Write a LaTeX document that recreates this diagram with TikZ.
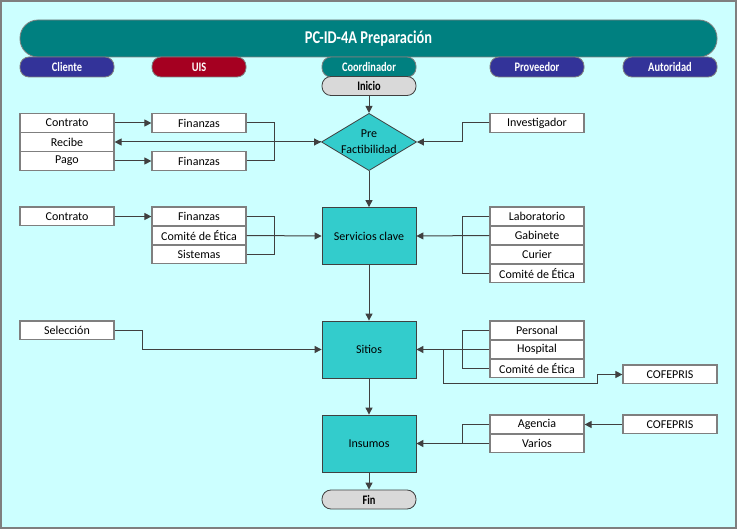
\documentclass[tikz,border=0pt]{standalone}
\usepackage{fontspec}
\setmainfont{Carlito}
\newfontfamily\angosta[FakeStretch=0.8]{Carlito}
\usetikzlibrary{arrows.meta,shapes.geometric}

\definecolor{fondo}{HTML}{CCFFFF}
\definecolor{verdeazul}{HTML}{008080}
\definecolor{azulcarril}{HTML}{333399}
\definecolor{rojocarril}{HTML}{A50021}
\definecolor{proceso}{HTML}{33CCCC}
\definecolor{grisinicio}{HTML}{D9D9D9}
\definecolor{borde}{HTML}{7F7F7F}
\definecolor{trazo}{HTML}{404040}

\tikzset{
  caja/.style={draw=borde, line width=1.2pt, fill=white, minimum width=94pt,
    minimum height=18.8pt, inner sep=0pt, font=\fontsize{12}{13}\selectfont},
  carril/.style={draw=borde, line width=0.8pt, rounded corners=9pt, minimum width=94pt,
    minimum height=20pt, inner sep=0pt, text=white, font=\angosta\fontsize{13}{14}\selectfont\bfseries},
  terminal/.style={draw=trazo, line width=0.8pt, fill=grisinicio, rounded corners=9pt,
    minimum width=94pt, minimum height=19pt, inner sep=0pt, font=\angosta\fontsize{13}{14}\selectfont\bfseries},
  tarea/.style={draw=trazo, line width=0.8pt, fill=proceso, minimum width=94pt,
    minimum height=57pt, inner sep=0pt, font=\fontsize{12}{13}\selectfont},
  decision/.style={diamond, draw=trazo, line width=0.8pt, fill=proceso, aspect=1.66,
    minimum width=93pt, minimum height=56pt, inner sep=0pt, align=center,
    font=\fontsize{12}{16}\selectfont},
  linea/.style={draw=trazo, line width=1pt},
  flecha/.style={linea, -{Triangle[length=7pt,width=7pt]}}
}

\begin{document}
\begin{tikzpicture}[x=1pt,y=-1pt]
    % Fondo y marco
    \useasboundingbox (0,0) rectangle (737,529);
    \fill[fondo] (0,0) rectangle (737,529);
    \draw[borde, line width=1.5pt] (1,1) rectangle (736,528);

    % Encabezado
    \node[draw=borde, line width=0.8pt, fill=verdeazul, rounded corners=18pt, minimum width=697pt,
      minimum height=37pt, text=white, font=\angosta\fontsize{18}{20}\selectfont\bfseries]
      (titulo) at (368.5,38.5) {PC-ID-4A Preparación};

    % Carriles
    \foreach \x/\nombre/\clr in {
      67/Cliente/azulcarril,
      199/UIS/rojocarril,
      369/Coordinador/verdeazul,
      537/Proveedor/azulcarril,
      670/Autoridad/azulcarril} {
      \node[carril, fill=\clr] (\nombre) at (\x,67) {\nombre};
    }

    % Flujo principal
    \node[terminal] (inicio) at (369,86) {Inicio};
    \node[decision] (pre) at (369,142) {Pre\\Factibilidad};
    \node[tarea] (serv) at (369,236) {Servicios clave};
    \node[tarea] (sitios) at (369,349.5) {Sitios};
    \node[tarea] (insumos) at (369,443.5) {Insumos};
    \node[terminal] (fin) at (369,499.5) {Fin};

    \draw[flecha] (inicio) -- (pre);
    \draw[flecha] (pre) -- (serv);
    \draw[flecha] (serv) -- (sitios);
    \draw[flecha] (sitios) -- (insumos);
    \draw[flecha] (insumos) -- (fin);

    % Pre factibilidad
    \node[caja] (contrato1) at (67,123) {Contrato};
    \node[caja] (recibe) at (67,142) {Recibe};
    \node[caja] (pago) at (67,161) {Pago};
    \node[caja] (finanzas1) at (199,123) {Finanzas};
    \node[caja] (finanzas2) at (199,161) {Finanzas};
    \node[caja] (investigador) at (537,123) {Investigador};

    \coordinate (j1) at (274,142);
    \coordinate (j2) at (462,142);
    \draw[flecha] (contrato1) -- (finanzas1);
    \draw[flecha] (pago) -- (finanzas2);
    \draw[linea] (finanzas1.east) -| (j1);
    \draw[linea] (finanzas2.east) -| (j1);
    \draw[flecha] (j1) -- (pre.west);
    \draw[flecha] (pre.west) -- (recibe.east);
    \draw[linea] (investigador.west) -| (j2);
    \draw[flecha] (j2) -- (pre.east);

    % Servicios clave
    \node[caja] (contrato2) at (67,216.5) {Contrato};
    \node[caja] (finanzas3) at (199,216.5) {Finanzas};
    \node[caja] (etica1) at (199,235.5) {Comité de Ética};
    \node[caja] (sistemas) at (199,254.5) {Sistemas};
    \node[caja] (laboratorio) at (537,216.5) {Laboratorio};
    \node[caja] (gabinete) at (537,235.5) {Gabinete};
    \node[caja] (curier) at (537,254.5) {Curier};
    \node[caja] (etica2) at (537,273.5) {Comité de Ética};

    \coordinate (j3) at (274,235.5);
    \coordinate (j4) at (462,235.5);
    \draw[flecha] (contrato2) -- (finanzas3);
    \draw[linea] (finanzas3.east) -| (j3);
    \draw[linea] (sistemas.east) -| (j3);
    \draw[flecha] (etica1.east) -- (serv.west);
    \draw[linea] (laboratorio.west) -| (j4);
    \draw[linea] (etica2.west) -| (j4);
    \draw[flecha] (gabinete.west) -- (serv.east);

    % Sitios
    \node[caja] (seleccion) at (67,330.5) {Selección};
    \node[caja] (personal) at (537,330.5) {Personal};
    \node[caja] (hospital) at (537,349.5) {Hospital};
    \node[caja] (etica3) at (537,368.5) {Comité de Ética};
    \node[caja] (cofepris1) at (670,374.5) {COFEPRIS};

    \coordinate (j5) at (462,349.5);
    \coordinate (j6) at (443,349.5);
    \draw[flecha] (seleccion.east) -- ++(28,0) |- (sitios.west);
    \draw[linea] (personal.west) -| (j5);
    \draw[linea] (etica3.west) -| (j5);
    \draw[flecha] (hospital.west) -- (sitios.east);
    \draw[flecha] (j6) -- ++(0,34) -| ++(154,-9) -- (cofepris1.west);

    % Insumos
    \node[caja] (agencia) at (537,424.5) {Agencia};
    \node[caja] (varios) at (537,443.5) {Varios};
    \node[caja] (cofepris2) at (670,424.5) {COFEPRIS};

    \coordinate (j7) at (462,443.5);
    \draw[linea] (agencia.west) -| (j7);
    \draw[flecha] (varios.west) -- (insumos.east);
    \draw[flecha] (cofepris2) -- (agencia);
\end{tikzpicture}
\end{document}
